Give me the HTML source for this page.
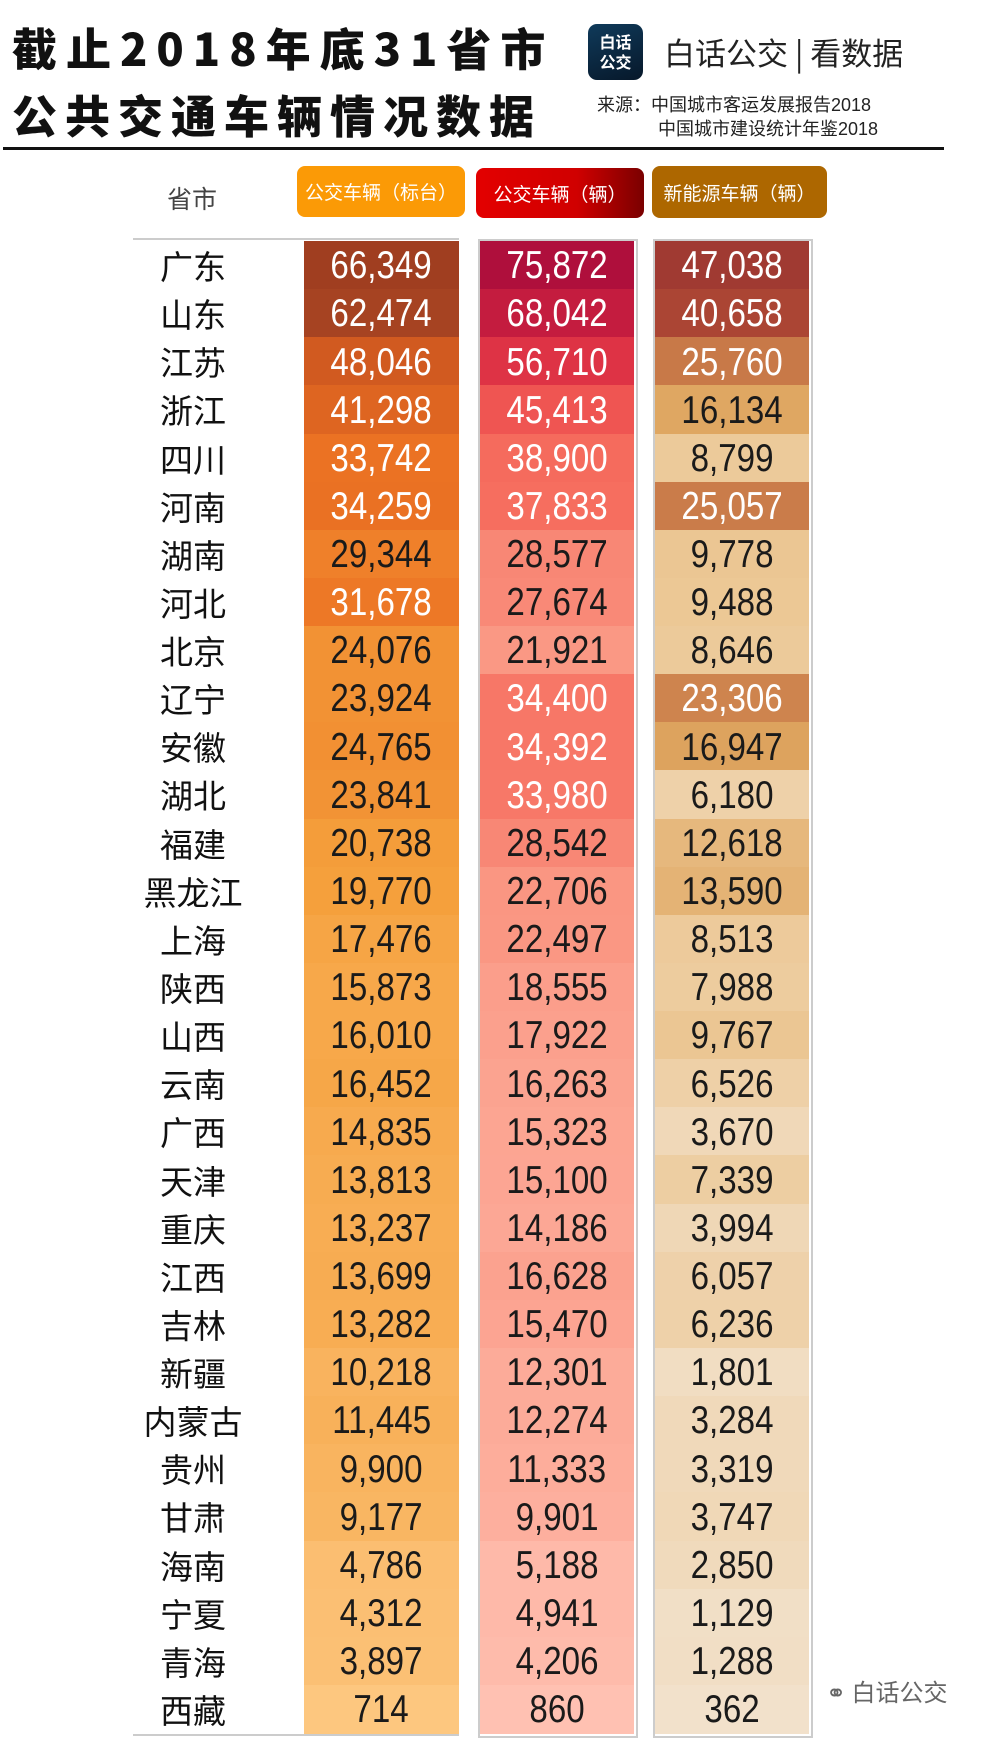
<!DOCTYPE html>
<html><head><meta charset="utf-8">
<style>
body{margin:0;width:1008px;height:1746px;background:#fff;position:relative;overflow:hidden;font-family:"Liberation Sans","Noto Sans CJK SC",sans-serif;}
.abs{position:absolute;}
.t1{font-family:"Noto Sans CJK SC",sans-serif;font-weight:900;color:#111;white-space:nowrap;}
.hdr{position:absolute;border-radius:8px;color:#fff;font-size:19px;display:flex;align-items:center;justify-content:center;}
.cell{position:absolute;display:flex;align-items:center;justify-content:center;font-size:36px;}
.cell span{display:inline-block;transform:scale(0.92,1.08);}
.prov{position:absolute;font-size:33px;color:#111;display:flex;align-items:center;justify-content:center;font-family:"Noto Sans CJK SC",sans-serif;}
</style></head><body>
<div class="abs t1" style="left:12px;top:14px;font-size:45px;letter-spacing:9px;">截止2018年底31省市</div>
<div class="abs t1" style="left:12px;top:81px;font-size:45px;letter-spacing:8px;">公共交通车辆情况数据</div>
<div class="abs" style="left:588px;top:24px;width:55px;height:56px;border-radius:9px;background:linear-gradient(160deg,#0f3a5a,#07182a);color:#fff;font-size:16px;line-height:20px;text-align:center;padding-top:7px;box-sizing:border-box;font-family:'Noto Sans CJK SC',sans-serif;font-weight:bold;">白话<br>公交</div>
<div class="abs" style="left:664px;top:29px;font-size:31px;color:#222;font-family:'Noto Sans CJK SC',sans-serif;white-space:nowrap;">白话公交 | 看数据</div>
<div class="abs" style="left:597px;top:91px;font-size:18px;color:#222;white-space:nowrap;">来源：中国城市客运发展报告2018</div>
<div class="abs" style="left:658px;top:115px;font-size:18px;color:#222;white-space:nowrap;">中国城市建设统计年鉴2018</div>
<div class="abs" style="left:3px;top:147px;width:941px;height:3px;background:#111;"></div>
<div class="abs" style="left:167px;top:180px;font-size:25px;color:#444;font-family:'Noto Sans CJK SC',sans-serif;">省市</div>
<div class="hdr" style="left:297px;top:166px;width:168px;height:51px;background:#fb9a06;">公交车辆（标台）</div>
<div class="hdr" style="left:476px;top:168px;width:168px;height:50px;background:linear-gradient(90deg,#e30000,#d00000 60%,#7a0000);">公交车辆（辆）</div>
<div class="hdr" style="left:652px;top:166px;width:175px;height:52px;background:#ad6700;">新能源车辆（辆）</div>
<div class="abs" style="left:133px;top:238px;width:326px;height:2px;background:#ccc;"></div>
<div class="abs" style="left:133px;top:1734px;width:326px;height:2px;background:#ccc;"></div>
<div class="abs" style="left:478px;top:239px;width:156px;height:1495px;border:2px solid #ccc;"></div>
<div class="abs" style="left:653px;top:239px;width:156px;height:1495px;border:2px solid #ccc;"></div>
<div id="table"></div>
<div class="abs" style="left:826px;top:1673px;font-size:24px;color:#666;white-space:nowrap;font-family:'Noto Sans CJK SC',sans-serif;">&#9901; 白话公交</div>
<script>
const provinces=["广东","山东","江苏","浙江","四川","河南","湖南","河北","北京","辽宁","安徽","湖北","福建","黑龙江","上海","陕西","山西","云南","广西","天津","重庆","江西","吉林","新疆","内蒙古","贵州","甘肃","海南","宁夏","青海","西藏"];
const standardBuses=[66349,62474,48046,41298,33742,34259,29344,31678,24076,23924,24765,23841,20738,19770,17476,15873,16010,16452,14835,13813,13237,13699,13282,10218,11445,9900,9177,4786,4312,3897,714];
const buses=[75872,68042,56710,45413,38900,37833,28577,27674,21921,34400,34392,33980,28542,22706,22497,18555,17922,16263,15323,15100,14186,16628,15470,12301,12274,11333,9901,5188,4941,4206,860];
const newEnergy=[47038,40658,25760,16134,8799,25057,9778,9488,8646,23306,16947,6180,12618,13590,8513,7988,9767,6526,3670,7339,3994,6057,6236,1801,3284,3319,3747,2850,1129,1288,362];
const rowTop=241, rowH=48.13;
const cols=[
 {x:304,w:155,data:standardBuses,stops:[[0,[253,200,130]],[0.3,[245,160,60]],[0.5,[236,115,35]],[0.72,[210,90,32]],[0.9,[170,70,35]],[1,[160,62,32]]],thr:30000,name:'standard-buses'},
 {x:480,w:154,data:buses,stops:[[0,[255,195,180]],[0.3,[250,150,130]],[0.5,[246,110,95]],[0.65,[236,72,75]],[0.8,[215,40,65]],[1,[175,15,60]]],thr:30000,name:'buses'},
 {x:655,w:154,data:newEnergy,stops:[[0,[242,226,205]],[0.2,[236,200,150]],[0.35,[222,165,95]],[0.55,[200,120,72]],[0.85,[172,70,52]],[1,[160,58,50]]],thr:20000,name:'new-energy'}
];
function colorAt(stops,t){
 for(let i=1;i<stops.length;i++){if(t<=stops[i][0]){const a=stops[i-1],b=stops[i];const f=(t-a[0])/(b[0]-a[0]);return 'rgb('+a[1].map((v,k)=>Math.round(v+(b[1][k]-v)*f)).join(',')+')';}}
 return 'rgb('+stops[stops.length-1][1].join(',')+')';
}
const tbl=document.getElementById('table');
provinces.forEach((p,i)=>{
 const d=document.createElement('div');
 d.className='prov';
 
 
 d.style.left='133px';d.style.width='120px';d.style.top=(rowTop+i*rowH)+'px';d.style.height=rowH+'px';
 d.textContent=p;tbl.appendChild(d);
});
cols.forEach(c=>{
 const max=Math.max(...c.data);
 c.data.forEach((v,i)=>{
  const d=document.createElement('div');
  d.className='cell';
  
  
  d.style.left=c.x+'px';d.style.width=c.w+'px';
  d.style.top=(rowTop+i*rowH)+'px';d.style.height=(rowH+0.5)+'px';
  d.style.background=colorAt(c.stops,v/max);
  d.style.color=v>=c.thr?'#fff':'#1a1a1a';
  const s=document.createElement('span');
  s.textContent=v.toLocaleString('en-US');
  d.appendChild(s);
  tbl.appendChild(d);
 });
});
</script>
</body></html>
